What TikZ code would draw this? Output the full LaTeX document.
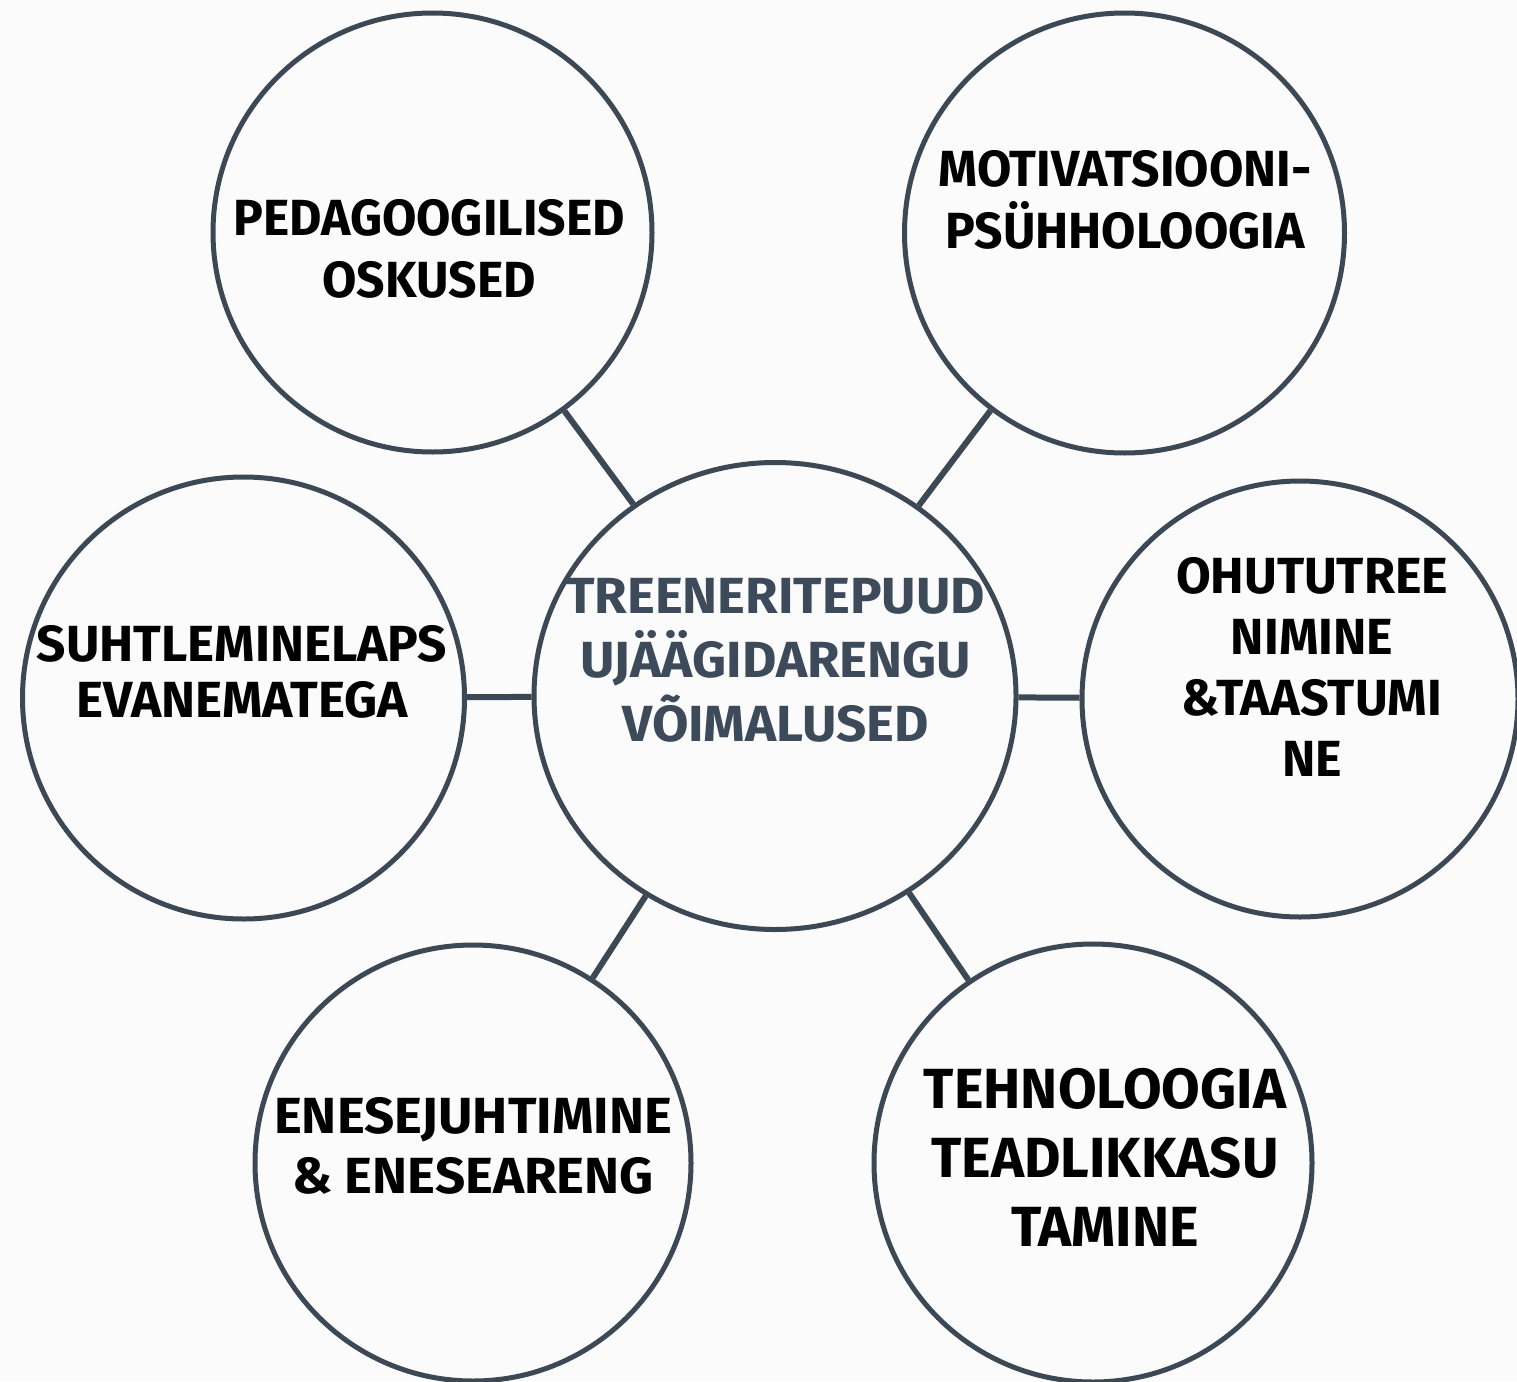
\documentclass[tikz,border=0pt]{standalone}
\usepackage{fontspec}
\newfontfamily\fsA{Fira Sans}[FakeStretch=0.98]
\newfontfamily\fsB{Fira Sans}[FakeStretch=1.01]
\newfontfamily\fsC{Fira Sans}[FakeStretch=0.99]
\newfontfamily\fsD{Fira Sans}[FakeStretch=1.04]
\usetikzlibrary{shapes.geometric}
\definecolor{ringc}{HTML}{3C4854}
\definecolor{midtext}{HTML}{3D4A5A}
\definecolor{bgc}{HTML}{FBFBFB}
\begin{document}
\begin{tikzpicture}[x=1pt,y=-1pt,
  bubble/.style={circle,draw=ringc,line width=5pt,inner sep=0pt,minimum size=#1},
  hub/.style={ellipse,draw=ringc,line width=5pt,inner sep=0pt,minimum width=482pt,minimum height=467pt},
  conn/.style={draw=ringc,line width=6pt},
  lbl/.style n args={3}{font=#3\bfseries\fontsize{#1}{#2}\selectfont,align=center,inner sep=0pt,text=black}]
\useasboundingbox (0,0) rectangle (1517,1381);
\fill[bgc] (0,0) rectangle (1517,1381);
% circles
\node[hub] (c) at (775,696) {};
\node[bubble=439pt] (tl) at (432.5,232.5) {};
\node[bubble=440pt] (tr) at (1124.5,233) {};
\node[bubble=442pt] (l) at (243.5,698) {};
\node[bubble=436pt] (r) at (1300,699) {};
\node[bubble=436pt] (bl) at (473,1163) {};
\node[bubble=438pt] (br) at (1093,1163) {};
% connectors
\draw[conn] (c) -- (tl);
\draw[conn] (c) -- (tr);
\draw[conn] (c) -- (l);
\draw[conn] (c) -- (r);
\draw[conn] (c) -- (bl);
\draw[conn] (c) -- (br);
% labels
\node[lbl={50.8pt}{62.5pt}{\fsA}] (ttl) at (429,249) {PEDAGOOGILISED\\OSKUSED};
\node[lbl={50.8pt}{62.5pt}{\fsA}] (ttr) at (1125,200) {MOTIVATSIOONI-\\PSÜHHOLOOGIA};
\node[lbl={50.8pt}{56pt}{\fsB}] (tl2) at (242,672) {SUHTLEMINELAPS\\EVANEMATEGA};
\node[lbl={50.8pt}{61pt}{\fsC}] (tr2) at (1312,667) {OHUTUTREE\\NIMINE\\\&TAASTUMI\\NE};
\node[lbl={50.8pt}{64pt}{\fsD},text=midtext] (tc) at (775.5,660) {TREENERITEPUUD\\UJÄÄGIDARENGU\\VÕIMALUSED};
\node[lbl={50.8pt}{60pt}{\fsD}] (tbl) at (473,1146) {ENESEJUHTIMINE\\\& ENESEARENG};
\node[lbl={56.6pt}{69pt}{\fsC}] (tbr) at (1105,1157) {TEHNOLOOGIA\\TEADLIKKASU\\TAMINE};
\end{tikzpicture}
\end{document}
